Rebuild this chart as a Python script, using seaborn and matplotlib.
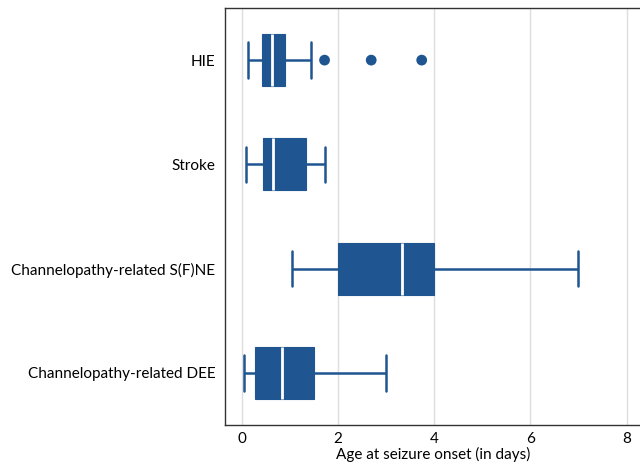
import numpy as np
import pandas as pd
import matplotlib
matplotlib.use("Agg")
import matplotlib.pyplot as plt
import seaborn as sns

# Five-number summaries (days)
groups = ["HIE", "Stroke", "Channelopathy-related S(F)NE", "Channelopathy-related DEE"]
whisker_lo = [0.12, 0.08, 1.04, 0.04]
q1 = [0.41, 0.45, 2.00, 0.27]
median = [0.62, 0.65, 3.33, 0.83]
q3 = [0.90, 1.33, 4.00, 1.50]
whisker_hi = [1.43, 1.73, 7.00, 3.00]

# Outliers (HIE only)
outlier_group = ["HIE", "HIE", "HIE"]
outlier_vals = [1.72, 2.69, 3.74]

blue = "#1f5591"

rows = []
for i, g in enumerate(groups):
    for v in (whisker_lo[i], q1[i], median[i], q3[i], whisker_hi[i]):
        rows.append({"group": g, "age": v})
df = pd.DataFrame(rows)
out = pd.DataFrame({"group": outlier_group, "age": outlier_vals})

sns.set_style("white")
plt.rcParams["font.family"] = ["Lato", "DejaVu Sans"]
plt.rcParams["text.color"] = "black"
plt.rcParams["xtick.color"] = "black"
plt.rcParams["ytick.color"] = "black"
plt.rcParams["axes.labelcolor"] = "black"

fig = plt.figure(figsize=(6.4, 4.72), dpi=100)
ax = fig.add_axes([225 / 640, 47 / 472, 416 / 640, 417 / 472])

ax.grid(axis="x", color="#dedede", linewidth=1)
ax.set_axisbelow(True)

sns.boxplot(data=df, x="age", y="group", order=groups, orient="h",
            whis=np.inf, width=0.5, color=blue, saturation=1, ax=ax,
            boxprops=dict(facecolor=blue, edgecolor=blue, linewidth=0.8),
            medianprops=dict(color="white", linewidth=2),
            whiskerprops=dict(color=blue, linewidth=1.8),
            capprops=dict(color=blue, linewidth=1.8),
            capwidths=0.34, showfliers=False)

sns.scatterplot(data=out, x="age", y="group", color=blue, s=60,
                edgecolor="none", ax=ax, zorder=5)

ax.set_xlim(-0.35, 8.3)
ax.set_ylim(3.5, -0.5)
ax.set_xticks([0, 2, 4, 6, 8])
ax.set_xlabel("Age at seizure onset (in days)", fontsize=11, labelpad=1)
ax.set_ylabel("")
ax.tick_params(axis="x", length=0, labelsize=11, pad=5)
ax.tick_params(axis="y", length=0, labelsize=11, pad=7)

for s in ["left", "top", "bottom"]:
    ax.spines[s].set_color("#333333")
    ax.spines[s].set_linewidth(1)
ax.spines["right"].set_visible(False)

fig.savefig("out.png", dpi=100)
